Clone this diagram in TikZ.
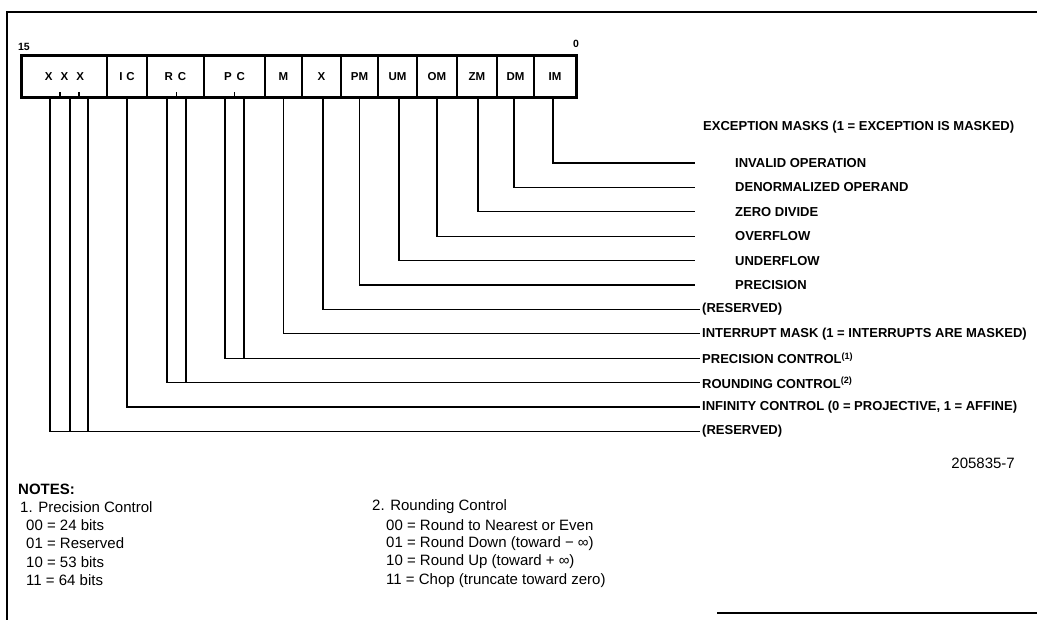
\documentclass[tikz,border=0pt]{standalone}
\usepackage{fontspec}
\setmainfont{Liberation Sans}
\usetikzlibrary{positioning}

\begin{document}
\begin{tikzpicture}[x=1pt,y=-1pt,
	bitcell/.style={draw,line width=1.1pt,inner sep=0pt,minimum height=41pt,font=\bfseries\fontsize{11.5}{13}\selectfont},
	bitnum/.style={inner sep=0pt,font=\bfseries\fontsize{10.5}{12}\selectfont},
	flag/.style={inner sep=0pt,anchor=west,font=\bfseries\fontsize{13}{15}\selectfont},
	note/.style={inner sep=0pt,anchor=west,font=\fontsize{15}{17}\selectfont},
	conn/.style={line width=1.3pt}]

	\useasboundingbox (0,0) rectangle (1037,620);
	% frame
	\draw[line width=1.2pt] (7,620) -- (7,12) -- (1037,12);
	\draw[line width=1.2pt] (717,613) -- (1037,613);

	% control word cells
	\draw (64.5,76.5) node[bitcell,minimum width=85pt] (xxx) {X\hskip8pt X\hskip8pt X}
		(127,76.5) node[bitcell,minimum width=40pt] (ic) {I\hskip4pt C}
		(175.5,76.5) node[bitcell,minimum width=57pt] (rc) {R\hskip5pt C}
		(234.5,76.5) node[bitcell,minimum width=61pt] (pc) {P\hskip5pt C}
		(283.5,76.5) node[bitcell,minimum width=37pt] (m) {M}
		(321.5,76.5) node[bitcell,minimum width=39pt] (x) {X}
		(359.5,76.5) node[bitcell,minimum width=37pt] (pm) {PM}
		(397.5,76.5) node[bitcell,minimum width=39pt] (um) {UM}
		(437,76.5) node[bitcell,minimum width=40pt] (om) {OM}
		(477,76.5) node[bitcell,minimum width=40pt] (zm) {ZM}
		(515.5,76.5) node[bitcell,minimum width=37pt] (dm) {DM}
		(555,76.5) node[bitcell,minimum width=42pt] (im) {IM};
	\draw[line width=2.6pt] (xxx.south west) rectangle (im.north east);
	\node[bitnum] (b15) at (24,47) {15};
	\node[bitnum] (b0) at (576,44) {0};

	% field names
	\node[flag] (emask) at (703,127) {EXCEPTION MASKS (1 = EXCEPTION IS MASKED)};
	\node[flag] (inv) at (735,163) {INVALID OPERATION};
	\node[flag] (den) at (735,187.4) {DENORMALIZED OPERAND};
	\node[flag] (zdiv) at (735,211.8) {ZERO DIVIDE};
	\node[flag] (ovf) at (735,236.2) {OVERFLOW};
	\node[flag] (unf) at (735,260.6) {UNDERFLOW};
	\node[flag] (prec) at (735,285) {PRECISION};
	\node[flag] (rsv) at (702,309.4) {(RESERVED)};
	\node[flag] (intm) at (702,333.8) {INTERRUPT MASK (1 = INTERRUPTS ARE MASKED)};
	\node[flag] (pcl) at (702,358.2) {PRECISION CONTROL\textsuperscript{(1)}};
	\node[flag] (rcl) at (702,382.6) {ROUNDING CONTROL\textsuperscript{(2)}};
	\node[flag] (icl) at (702,407) {INFINITY CONTROL (0 = PROJECTIVE, 1 = AFFINE)};
	\node[flag] (rsvb) at (702,431.4) {(RESERVED)};

	% leader lines
	\draw[conn] ([xshift=-2pt]im.south) |- ([xshift=-40pt]inv.west);
	\draw[conn] ([xshift=-1.5pt]dm.south) |- ([xshift=-40pt]den.west);
	\draw[conn] ([xshift=1pt]zm.south) |- ([xshift=-40pt]zdiv.west);
	\draw[conn] (om.south) |- ([xshift=-40pt]ovf.west);
	\draw[conn] ([xshift=1.5pt]um.south) |- ([xshift=-40pt]unf.west);
	\draw[conn] (pm.south) |- ([xshift=-40pt]prec.west);
	\draw[conn] ([xshift=1.5pt]x.south) |- ([xshift=-2pt]rsv.west);
	\draw[conn] (m.south) |- ([xshift=-2pt]intm.west);
	\draw[conn] ([xshift=-9.5pt]pc.south) |- ([xshift=-2pt]pcl.west);
	\draw[conn] ([xshift=9.5pt]pc.south) -- ([xshift=9.5pt]pc.south |- pcl.west);
	\draw[conn] ([xshift=-8.5pt]rc.south) |- ([xshift=-2pt]rcl.west);
	\draw[conn] ([xshift=10.5pt]rc.south) -- ([xshift=10.5pt]rc.south |- rcl.west);
	\draw[conn] (ic.south) |- ([xshift=-2pt]icl.west);
	\draw[conn] ([xshift=-14.5pt]xxx.south) |- ([xshift=-2pt]rsvb.west);
	\draw[conn] ([xshift=5.5pt]xxx.south) -- ([xshift=5.5pt]xxx.south |- rsvb.west);
	\draw[conn] ([xshift=23.5pt]xxx.south) -- ([xshift=23.5pt]xxx.south |- rsvb.west);
	% small ticks where paired leaders meet the word
	\draw[conn] ([xshift=-4.5pt]xxx.south) -- ++(0,-6);
	\draw[conn] ([xshift=14.5pt]xxx.south) -- ++(0,-6);
	\draw[conn] ([xshift=1pt]rc.south) -- ++(0,-6);
	\draw[conn] (pc.south) -- ++(0,-6);

	\node[note,anchor=east] (docid) at (1015,463) {205835-7};

	% notes
	\node[note,font=\bfseries\fontsize{15}{17}\selectfont] (notes) at (18,489) {NOTES:};
	\node[note] (n1) at (20,507) {1. Precision Control};
	\node[note] (n1a) at (26,525.3) {00 = 24 bits};
	\node[note] (n1b) at (26,543.6) {01 = Reserved};
	\node[note] (n1c) at (26,561.9) {10 = 53 bits};
	\node[note] (n1d) at (26,580.2) {11 = 64 bits};
	\node[note] (n2) at (372,507) {2. Rounding Control};
	\node[note] (n2a) at (386,525.3) {00 = Round to Nearest or Even};
	\node[note] (n2b) at (386,543.6) {01 = Round Down (toward − ∞)};
	\node[note] (n2c) at (386,561.9) {10 = Round Up (toward + ∞)};
	\node[note] (n2d) at (386,580.2) {11 = Chop (truncate toward zero)};
\end{tikzpicture}
\end{document}
